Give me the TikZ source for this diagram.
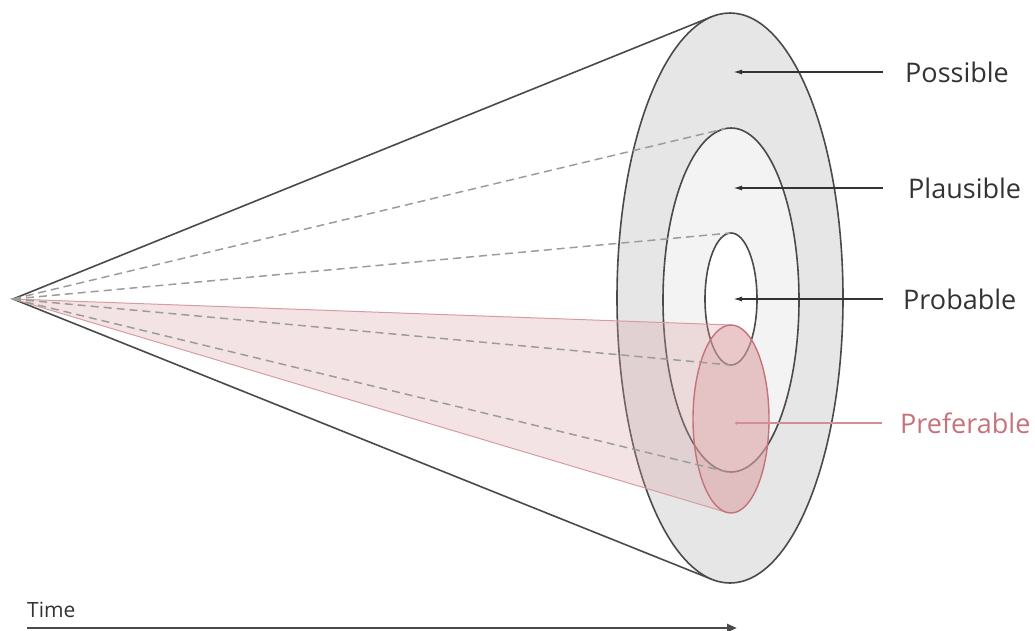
\documentclass[tikz,border=0pt]{standalone}
\usepackage{fontspec}
\setmainfont{Open Sans}
\usepackage{xcolor}
\usepackage{tikz}
\usetikzlibrary{arrows.meta,calc}
\definecolor{cLine}    {HTML}{4a4a4a}
\definecolor{cDash}    {HTML}{9c9c9c}
\definecolor{cOuter}   {HTML}{e6e6e6}
\definecolor{cMid}     {HTML}{f3f3f3}
\definecolor{cPink}    {HTML}{c5727a}
\definecolor{cPinkFill}{HTML}{dca2a6}
\definecolor{cText}    {HTML}{333333}

\tikzset{
  ringline/.style={draw=cLine,line width=1.6pt},
  hidden/.style={draw=cDash,line width=1.5pt,dash pattern=on 8pt off 5pt},
  lbl/.style={font=\fontsize{27}{32}\selectfont,text=cText,inner sep=0pt,anchor=west},
  pointer/.style={draw=cText,line width=1.5pt,-{Latex[length=9pt,width=5pt]}},
}

\begin{document}
\begin{tikzpicture}[x=1pt,y=-1pt]
  \useasboundingbox (0,0) rectangle (1035,630);
  \coordinate (apex) at (13,299);
  \coordinate (possible) at (730,298);
  \coordinate (plausible) at (731,300);
  \coordinate (probable) at (731,299);
  \coordinate (preferable) at (731,419);

  % cone and rings
  \draw[ringline] ($(possible)+(-99:113 and 285)$) -- (apex) -- ($(possible)+(99:113 and 285)$);
  \draw[ringline,fill=cOuter] (possible) ellipse[x radius=113,y radius=285];
  \draw[ringline,fill=cMid] (plausible) ellipse[x radius=68,y radius=172];
  \draw[ringline,fill=white] (probable) ellipse[x radius=26,y radius=66];

  % preferable cone
  \fill[cPinkFill,opacity=.3] (apex) -- ($(preferable)+(-89:38 and 94)$)
      arc[start angle=-89,end angle=-263,x radius=38,y radius=94] -- cycle;
  \draw[cPink!70,line width=1pt] ($(preferable)+(-89:38 and 94)$) -- (apex) -- ($(preferable)+(-263:38 and 94)$);
  \draw[cPink,line width=1.4pt,fill=cPinkFill,fill opacity=.6] (preferable) ellipse[x radius=38,y radius=94];

  % hidden edges
  \foreach \a in {-95,95}
    {\draw[hidden] (apex) -- ($(plausible)+(\a:68 and 172)$);}
  \foreach \a in {-92,92}
    {\draw[hidden] (apex) -- ($(probable)+(\a:26 and 66)$);}

  % labels
  \node[lbl] (possibleLbl) at (905,72) {Possible};
  \node[lbl] (plausibleLbl) at (908,188) {Plausible};
  \node[lbl] (probableLbl) at (903,299) {Probable};
  \node[lbl,text=cPink] (preferableLbl) at (900,423) {Preferable};
  \coordinate (possibleTip) at (733,72);
  \coordinate (plausibleTip) at (733,188);
  \coordinate (probableTip) at (733,299);
  \coordinate (preferableTip) at (735,423);
  \draw[pointer] ([xshift=-22pt]possibleLbl.west) -- (possibleTip);
  \draw[pointer] ([xshift=-25pt]plausibleLbl.west) -- (plausibleTip);
  \draw[pointer] ([xshift=-20pt]probableLbl.west) -- (probableTip);
  \draw[cPink!80,line width=1.2pt,-{Circle[length=3pt]}] ([xshift=-18pt]preferableLbl.west) -- (preferableTip);

  % time axis
  \node[font=\fontsize{21}{25}\selectfont,text=cText,inner sep=0pt,anchor=south west] (timeLbl) at (27,618) {Time};
  \coordinate (timeStart) at (27,628);
  \coordinate (timeEnd) at (737,628);
  \draw[cLine,line width=2.5pt,-{Triangle[length=10pt,width=8pt]}] (timeStart) -- (timeEnd);
\end{tikzpicture}
\end{document}
